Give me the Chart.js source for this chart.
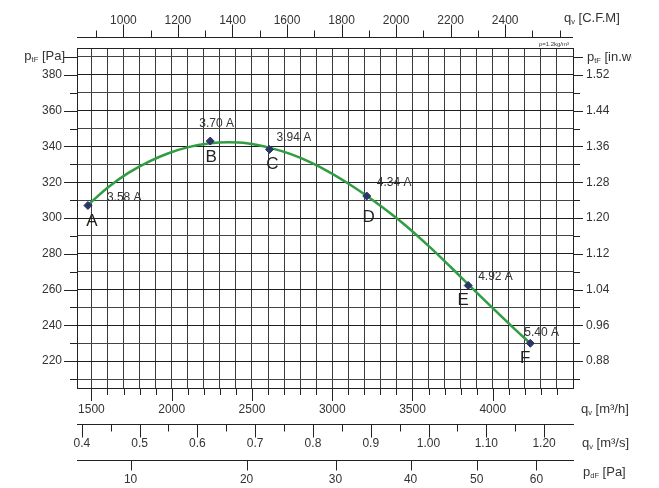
<!DOCTYPE html>
<html><head><meta charset="utf-8">
<script src="https://cdn.jsdelivr.net/npm/chart.js@4.4.1/dist/chart.umd.min.js"></script>
<style>html,body{margin:0;padding:0;background:#fff;}canvas{display:block;}</style>
</head><body>
<canvas id="c" width="659" height="488"></canvas>
<script>
// ---- data ----
const curveQ = [1478, 1606, 1730, 1855, 1980, 2104, 2229, 2354, 2468, 2613, 2738, 2862, 2987, 3112, 3216, 3319, 3444, 3610, 3735, 3849, 3984, 4109, 4234];
const curveP = [307.3, 317.3, 325.2, 331.4, 336.2, 339.6, 341.6, 342.3, 341.8, 339.2, 335.8, 331.2, 325.4, 318.6, 312.3, 305.6, 296.8, 283.6, 272.9, 262.8, 251.0, 240.3, 229.9];
const pointQ = [1478, 2240, 2609, 3215, 3847, 4234];
const pointP = [307.0, 343.0, 338.3, 312.3, 262.3, 230.0];
const pointLetters = ['A', 'B', 'C', 'D', 'E', 'F'];
const pointCurrents = ['3.58 A', '3.70 A', '3.94 A', '4.34 A', '4.92 A', '5.40 A'];
const yTickLabels = [220, 240, 260, 280, 300, 320, 340, 360, 380];
const yRightLabels = ['0.88', '0.96', '1.04', '1.12', '1.20', '1.28', '1.36', '1.44', '1.52'];
const m3hLabels = [1500, 2000, 2500, 3000, 3500, 4000];
const cfmLabels = [1000, 1200, 1400, 1600, 1800, 2000, 2200, 2400];
const m3sValues = [0.4, 0.5, 0.6, 0.7, 0.8, 0.9, 1.0, 1.1, 1.2];
const m3sLabels = ['0.4', '0.5', '0.6', '0.7', '0.8', '0.9', '1.00', '1.10', '1.20'];
const pdLabels = [10, 20, 30, 40, 50, 60];

// ---- axis ranges / unit conversions ----
const X_MIN = 1410, X_MAX = 4500, Y_MIN = 205, Y_MAX = 395;
const CFM = 1.699;     // m3/h per CFM
const PD_K = 551.5;    // m3/h per sqrt(Pa) of dynamic pressure

// label offsets (pixels) for annotations: [currentDx, currentDy, letterDx, letterDy]
const labelOffsets = [[19, -8, 4, 16], [-11, -17, 1, 16], [7, -12, 3, 15], [10, -13, 2, 21], [10, -9, -5, 15], [-6, -11, -5, 15]];

function range(a, b, s) { const r = []; for (let v = a; v <= b + 1e-9; v += s) r.push(Math.round(v * 1000) / 1000); return r; }

const FONT = "'Liberation Sans', Arial, Helvetica, sans-serif";
Chart.defaults.font.family = FONT;
Chart.defaults.font.size = 12;
Chart.defaults.color = '#333';

function drawSub(ctx, parts, x, y, align) {
  const big = '13px ' + FONT, small = '7.5px ' + FONT;
  let w = 0;
  parts.forEach(p => { ctx.font = p[1] ? small : big; w += ctx.measureText(p[0]).width; });
  let cx = align === 'right' ? x - w : x;
  ctx.textAlign = 'left'; ctx.textBaseline = 'middle'; ctx.fillStyle = '#333';
  parts.forEach(p => {
    ctx.font = p[1] ? small : big;
    ctx.fillText(p[0], cx, p[1] ? y + 4 : y);
    cx += ctx.measureText(p[0]).width;
  });
}

const decor = {
  id: 'decor',
  beforeDatasetsDraw(chart) {
    const ctx = chart.ctx, a = chart.chartArea, s = chart.scales;
    ctx.save();
    ctx.strokeStyle = '#222'; ctx.lineWidth = 1;
    ctx.strokeRect(Math.round(a.left) + 0.5, Math.round(a.top) + 0.5, Math.round(a.right - a.left), Math.round(a.bottom - a.top));
    const line = (x1, y1, x2, y2) => { ctx.beginPath(); ctx.moveTo(x1, y1); ctx.lineTo(x2, y2); ctx.stroke(); };
    const px = v => Math.round(v) + 0.5;
    range(210, 390, 10).forEach(v => {
      const y = px(s.y.getPixelForValue(v));
      const major = v % 20 === 0 || v === 390;
      line(a.left, y, a.left - (major ? 13 : 7), y);
      line(a.right, y, a.right + (major ? 10 : 7), y);
    });
    range(1500, 4400, 100).forEach(v => {
      const x = px(s.x.getPixelForValue(v));
      line(x, a.bottom, x, a.bottom + (v % 500 === 0 ? 13 : 7));
    });
    const ys = Math.round(s.xs.top) + 0.5;
    range(0.4, 1.2, 0.05).forEach(v => {
      const x = px(s.xs.getPixelForValue(v));
      const major = Math.abs(v * 10 - Math.round(v * 10)) < 1e-6;
      line(x, ys, x, ys + (major ? 13 : 7));
    });
    const yp = Math.round(s.xp.top) + 0.5;
    pdLabels.forEach(p => {
      const x = px(s.xp.getPixelForValue(PD_K * Math.sqrt(p)));
      line(x, yp, x, yp + 10);
    });
    const yc = Math.round(s.x2.bottom - 11) + 0.5;
    line(a.left, yc, a.right, yc);
    range(900, 2600, 100).forEach(v => {
      const x = px(s.x2.getPixelForValue(v));
      const major = v % 200 === 0 && v < 2600;
      line(x, yc, x, yc - (major ? 13 : 7));
    });
    ctx.restore();
  },
  afterDraw(chart) {
    const ctx = chart.ctx, a = chart.chartArea, s = chart.scales;
    ctx.save();
    drawSub(ctx, [['p', 0], ['tF', 1], [' [Pa]', 0]], a.left - 12, s.y.getPixelForValue(390) - 1, 'right');
    ctx.save();
    ctx.beginPath(); ctx.rect(a.right, 0, 632 - a.right, chart.height); ctx.clip();
    drawSub(ctx, [['p', 0], ['tF', 1], [' [in.wg]', 0]], a.right + 14, s.y.getPixelForValue(390), 'left');
    ctx.restore();
    drawSub(ctx, [['q', 0], ['v', 1], [' [C.F.M]', 0]], a.right - 9, 18, 'left');
    drawSub(ctx, [['q', 0], ['v', 1], [' [m³/h]', 0]], a.right + 8, a.bottom + 21, 'left');
    drawSub(ctx, [['q', 0], ['v', 1], [' [m³/s]', 0]], a.right + 9, s.xs.top + 19, 'left');
    drawSub(ctx, [['p', 0], ['dF', 1], [' [Pa]', 0]], a.right + 10, s.xp.top + 12, 'left');
    ctx.font = '6px ' + FONT; ctx.fillStyle = '#333'; ctx.textAlign = 'right'; ctx.textBaseline = 'middle';
    ctx.fillText('ρ=1.2kg/m³', a.right - 4, a.top - 4);
    pointQ.forEach((q, i) => {
      const x = s.x.getPixelForValue(q), y = s.y.getPixelForValue(pointP[i]);
      const o = labelOffsets[i];
      ctx.font = '12px ' + FONT; ctx.fillStyle = '#333'; ctx.textAlign = 'left'; ctx.textBaseline = 'middle';
      ctx.fillText(pointCurrents[i], x + o[0], y + o[1]);
      ctx.font = '17px ' + FONT; ctx.fillStyle = '#222'; ctx.textAlign = 'center';
      ctx.fillText(pointLetters[i], x + o[2], y + o[3]);
    });
    ctx.restore();
  }
};

const noGrid = { drawOnChartArea: false, drawTicks: false };

new Chart(document.getElementById('c'), {
  type: 'scatter',
  data: {
    datasets: [
      { data: curveQ.map((q, i) => ({ x: q, y: curveP[i] })), showLine: true, borderColor: '#2f9d42', borderWidth: 2.5, pointRadius: 0, cubicInterpolationMode: 'monotone', fill: false, order: 2, xAxisID: 'x', yAxisID: 'y' },
      { data: pointQ.map((q, i) => ({ x: q, y: pointP[i] })), showLine: false, pointStyle: 'rectRot', pointRadius: 4, backgroundColor: '#2b3566', borderColor: '#2b3566', order: 1, xAxisID: 'x', yAxisID: 'y' }
    ]
  },
  options: {
    responsive: false, animation: false, devicePixelRatio: 1,
    layout: { padding: 0 },
    plugins: { legend: { display: false }, tooltip: { enabled: false } },
    scales: {
      x: {
        type: 'linear', position: 'bottom', weight: 0, min: X_MIN, max: X_MAX,
        afterBuildTicks: sc => { sc.ticks = range(1500, 4400, 100).map(v => ({ value: v })); },
        ticks: { autoSkip: false, maxRotation: 0, padding: 14, callback: v => m3hLabels.includes(v) ? String(v) : '' },
        grid: { color: '#3c3c3c', lineWidth: 1, drawTicks: false },
        border: { display: false },
        afterFit: sc => { sc.height = 36; }
      },
      xs: {
        type: 'linear', position: 'bottom', weight: 1, min: X_MIN / 3600, max: X_MAX / 3600,
        afterBuildTicks: sc => { sc.ticks = m3sValues.map(v => ({ value: v })); },
        ticks: { autoSkip: false, maxRotation: 0, padding: 12, callback: (v, i) => m3sLabels[i] },
        grid: noGrid, border: { display: true, color: '#222', width: 1 },
        afterFit: sc => { sc.height = 36; }
      },
      xp: {
        type: 'linear', position: 'bottom', weight: 2, min: X_MIN, max: X_MAX,
        afterBuildTicks: sc => { sc.ticks = pdLabels.map(p => ({ value: PD_K * Math.sqrt(p) })); },
        ticks: { autoSkip: false, maxRotation: 0, padding: 12, callback: (v, i) => String(pdLabels[i]) },
        grid: noGrid, border: { display: true, color: '#222', width: 1 },
        afterFit: sc => { sc.height = 28; }
      },
      x2: {
        type: 'linear', position: 'top', min: X_MIN / CFM, max: X_MAX / CFM,
        afterBuildTicks: sc => { sc.ticks = cfmLabels.map(v => ({ value: v })); },
        ticks: { autoSkip: false, maxRotation: 0, padding: 20, callback: v => String(v) },
        grid: noGrid, border: { display: false },
        afterFit: sc => { sc.height = 48; }
      },
      y: {
        type: 'linear', position: 'left', min: Y_MIN, max: Y_MAX,
        afterBuildTicks: sc => { sc.ticks = range(210, 390, 10).map(v => ({ value: v })); },
        ticks: { autoSkip: false, padding: 15, callback: v => yTickLabels.includes(v) ? String(v) : '' },
        grid: { color: ctx => (ctx.tick && ctx.tick.value % 20 === 0) ? '#1e1e1e' : '#444', lineWidth: 1, drawTicks: false },
        border: { display: false },
        afterFit: sc => { sc.width = 77; }
      },
      y2: {
        type: 'linear', position: 'right', min: Y_MIN, max: Y_MAX,
        afterBuildTicks: sc => { sc.ticks = yTickLabels.map(v => ({ value: v })); },
        ticks: { autoSkip: false, padding: 13, callback: (v, i) => yRightLabels[i] },
        grid: noGrid, border: { display: false },
        afterFit: sc => { sc.width = 86; }
      }
    }
  },
  plugins: [decor]
});
</script>
</body></html>
